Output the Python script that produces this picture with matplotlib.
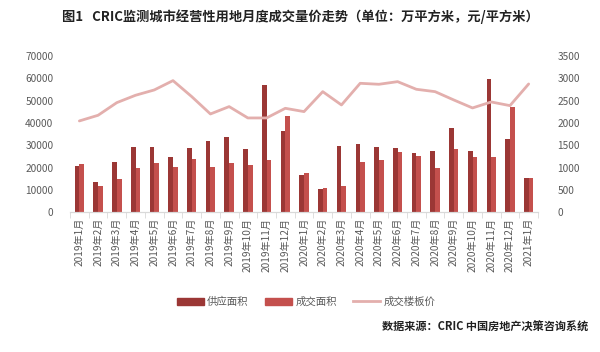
import numpy as np
import matplotlib.pyplot as plt
from matplotlib.patches import Patch
from matplotlib.lines import Line2D

plt.rcParams['font.family'] = ['Noto Sans CJK SC', 'DejaVu Sans']

# ---------------------------------------------------------------
# data
months = ['2019年1月', '2019年2月', '2019年3月', '2019年4月', '2019年5月',
          '2019年6月', '2019年7月', '2019年8月', '2019年9月', '2019年10月',
          '2019年11月', '2019年12月', '2020年1月', '2020年2月', '2020年3月',
          '2020年4月', '2020年5月', '2020年6月', '2020年7月', '2020年8月',
          '2020年9月', '2020年10月', '2020年11月', '2020年12月', '2021年1月']
supply = [20600, 13400, 22700, 29400, 29400, 24800, 29000, 31800, 33900, 28500,
          57000, 36400, 16900, 10400, 29700, 30400, 29400, 28700, 26400, 27300,
          37800, 27300, 59600, 32700, 15300]
deal = [21800, 11900, 14800, 19900, 22200, 20100, 23900, 20100, 22200, 21000,
        23400, 43100, 17600, 11000, 11900, 22700, 23600, 26900, 25200, 19700,
        28200, 24800, 24800, 47300, 15300]
price = [2045, 2172, 2455, 2620, 2739, 2948, 2590, 2201, 2366, 2112,
         2112, 2328, 2254, 2701, 2403, 2888, 2866, 2925, 2754, 2701,
         2515, 2336, 2470, 2388, 2873]

c_supply = '#9B3735'
c_deal = '#C4504D'
c_price = '#E3AFAD'
c_text = '#595959'

#---------------------------------------------------------------
fig = plt.figure(figsize=(6, 3.52), dpi=100)
ax = fig.add_axes([0.1167, 0.397, 0.78, 0.444])
ax2 = ax.twinx()

x = np.arange(len(months))
w = 0.25
ax.bar(x - w/2, supply, w, color=c_supply, zorder=2)
ax.bar(x + w/2, deal, w, color=c_deal, zorder=2)
ax2.plot(x, price, color=c_price, lw=2.0, solid_capstyle='round')

ax.set_xlim(-0.5, len(months) - 0.5)
ax.set_ylim(0, 70000)
ax.set_yticks(np.arange(0, 70001, 10000))
ax2.set_ylim(0, 3500)
ax2.set_yticks(np.arange(0, 3501, 500))

ax.set_xticks(x)
ax.set_xticklabels(months, rotation=90, fontsize=7.3, color=c_text)
ax.set_xticks(np.arange(-0.5, len(months), 1), minor=True)
ax.tick_params(axis='x', which='major', length=0, pad=4)
ax.tick_params(axis='x', which='minor', length=4, color='#D9D9D9')
ax.tick_params(axis='y', length=0, labelsize=7.3, labelcolor=c_text, pad=12)
ax2.tick_params(axis='y', length=0, labelsize=7.3, labelcolor=c_text, pad=14)

for a in (ax, ax2):
    for s in ('top', 'left', 'right'):
        a.spines[s].set_visible(False)
    a.spines['bottom'].set_color('#D9D9D9')

handles = [Patch(color=c_supply), Patch(color=c_deal),
           Line2D([0], [0], color=c_price, lw=2.0)]
fig.legend(handles, ['供应面积', '成交面积', '成交楼板价'],
           loc='center', bbox_to_anchor=(0.51, 0.142), ncol=3, frameon=False,
           fontsize=7.5, labelcolor=c_text, handlelength=2.6, handleheight=0.7,
           columnspacing=1.6, handletextpad=0.3)

fig.text(0.5, 0.952, '图1   CRIC监测城市经营性用地月度成交量价走势（单位：万平方米，元/平方米）',
         ha='center', va='center', fontsize=9.5, fontweight='bold', color='#222222')
fig.text(0.98, 0.07, '数据来源：CRIC 中国房地产决策咨询系统',
         ha='right', va='center', fontsize=8, fontweight='bold', color='#222222')

plt.savefig('out.png', dpi=100)
